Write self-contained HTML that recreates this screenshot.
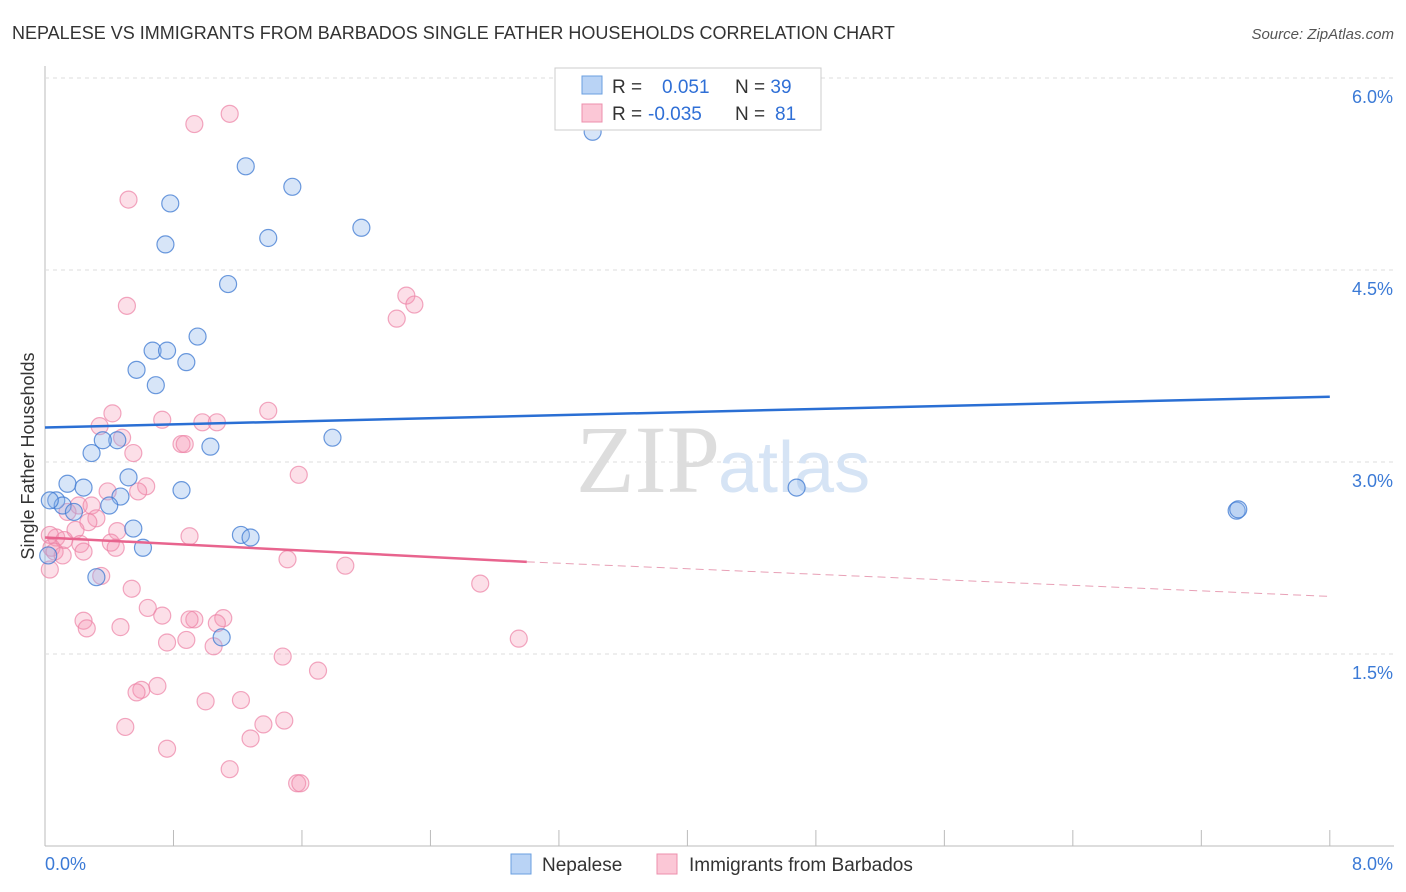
<!DOCTYPE html>
<html><head><meta charset="utf-8"><style>
body{margin:0;background:#fff;font-family:"Liberation Sans",sans-serif;}
svg{display:block}
</style></head><body>
<svg id="chart" width="1406" height="892">
<text x="12" y="39" font-size="18" fill="#333">NEPALESE VS IMMIGRANTS FROM BARBADOS SINGLE FATHER HOUSEHOLDS CORRELATION CHART</text>
<text x="1394" y="39" font-size="15" fill="#555" font-style="italic" text-anchor="end">Source: ZipAtlas.com</text>
<text x="0" y="0" transform="translate(34,456) rotate(-90)" font-size="18" fill="#333" text-anchor="middle">Single Father Households</text>
<g id="grid"></g>
<text x="720" y="492" font-size="96" fill="#ddd" font-family="Liberation Serif,serif" text-anchor="end">ZIP</text>
<text x="718" y="492" font-size="72" fill="#d6e4f5">atlas</text>
<g id="points"></g>
<g id="lines"></g>
<g>
<rect x="555" y="68" width="266" height="62" fill="#fff" stroke="#ccc"/>
<rect x="582" y="76" width="20" height="18" fill="#b9d3f5" stroke="#6a9fe0"/>
<rect x="582" y="104" width="20" height="18" fill="#fbc7d6" stroke="#ec8fac"/>
<text x="612" y="93" font-size="19" fill="#333">R = <tspan fill="#2f6fd6" x="662">0.051</tspan><tspan x="735" fill="#333">N = </tspan><tspan fill="#2f6fd6">39</tspan></text>
<text x="612" y="120" font-size="19" fill="#333">R = <tspan fill="#2f6fd6" x="648">-0.035</tspan><tspan x="735" fill="#333">N = </tspan><tspan fill="#2f6fd6" x="775">81</tspan></text>
</g>
<g>
<rect x="511" y="854" width="20" height="20" fill="#b9d3f5" stroke="#6a9fe0"/>
<text x="542" y="871" font-size="19" fill="#333">Nepalese</text>
<rect x="657" y="854" width="20" height="20" fill="#fbc7d6" stroke="#ec8fac"/>
<text x="689" y="871" font-size="19" fill="#333">Immigrants from Barbados</text>
</g>
<text x="45" y="870" font-size="18" fill="#3b7ad6">0.0%</text>
<text x="1393" y="870" font-size="18" fill="#3b7ad6" text-anchor="end">8.0%</text>
</svg>
<script>
const yTicks=[1.5,3.0,4.5,6.0];
const yTickLabels=["1.5%","3.0%","4.5%","6.0%"];
const xTicks=[0,0.8,1.6,2.4,3.2,4.0,4.8,5.6,6.4,7.2,8.0];
const nepaleseX=[3.41,1.25,1.54,0.78,1.97,0.75,1.39,1.14,0.95,0.67,0.76,0.88,0.57,0.69,1.79,0.45,0.36,1.03,0.29,0.52,4.68,0.14,0.24,0.85,0.07,0.47,0.11,0.40,0.18,7.42,7.43,0.55,1.22,1.28,0.61,0.02,0.32,1.10,0.03];
const nepaleseY=[5.58,5.31,5.15,5.02,4.83,4.70,4.75,4.39,3.98,3.87,3.87,3.78,3.72,3.60,3.19,3.17,3.17,3.12,3.07,2.88,2.80,2.83,2.80,2.78,2.70,2.73,2.66,2.66,2.61,2.62,2.63,2.48,2.43,2.41,2.33,2.27,2.10,1.63,2.70];
const barbadosX=[1.15,0.93,0.52,0.51,2.25,2.19,2.30,0.42,0.73,1.39,0.98,1.07,0.34,0.48,0.85,0.87,0.55,1.58,0.63,0.39,0.58,0.21,0.29,0.14,0.32,0.27,0.19,0.45,0.90,0.07,0.03,0.12,0.22,0.04,0.41,0.06,0.11,0.24,0.44,1.51,1.87,0.03,0.35,2.71,0.54,0.64,0.73,0.24,0.26,0.93,0.90,1.11,1.07,0.47,2.95,0.76,0.88,1.05,1.48,1.70,0.70,0.60,0.57,1.00,1.22,1.49,1.36,0.50,1.28,0.76,1.15,1.57,1.59];
const barbadosY=[5.72,5.64,5.05,4.22,4.30,4.12,4.23,3.38,3.33,3.40,3.31,3.31,3.28,3.19,3.14,3.14,3.07,2.90,2.81,2.77,2.77,2.66,2.66,2.61,2.56,2.53,2.47,2.46,2.42,2.41,2.43,2.39,2.36,2.33,2.37,2.30,2.27,2.30,2.33,2.24,2.19,2.16,2.11,2.05,2.01,1.86,1.80,1.76,1.70,1.77,1.77,1.78,1.74,1.71,1.62,1.59,1.61,1.56,1.48,1.37,1.25,1.22,1.20,1.13,1.14,0.98,0.95,0.93,0.84,0.76,0.60,0.49,0.49];
const blueTrend=[3.27,3.51];
const pinkTrend=[2.41,2.22,1.95];
const pinkSolidEnd=3.0;
const sx=v=>45+v*160.6, sy=v=>846-v*128;
const NS="http://www.w3.org/2000/svg";
function mk(tag,attrs,parent){const e=document.createElementNS(NS,tag);for(const k in attrs)e.setAttribute(k,attrs[k]);parent.appendChild(e);return e;}
const grid=document.getElementById('grid');
let ax=mk('line',{x1:45,y1:66,x2:45,y2:846,stroke:'#bbb'},grid);


let bx=mk('line',{x1:45,y1:846,x2:1394,y2:846,stroke:'#bbb'},grid);


yTicks.forEach((t,i)=>{
 const g=mk('line',{x1:45,y1:sy(t),x2:1394,y2:sy(t),stroke:'#ddd','stroke-dasharray':'4,4'},grid);
 
 
 const l=mk('text',{x:1393,y:sy(t)+25,'font-size':18,fill:'#3b7ad6','text-anchor':'end'},grid);
 l.textContent=yTickLabels[i];
 
 
});
xTicks.forEach(t=>{
 const k=mk('line',{x1:sx(t),y1:830,x2:sx(t),y2:846,stroke:'#bbb'},grid);
 
 
});
const pts=document.getElementById('points');
barbadosX.forEach((x,i)=>{
 const c=mk('circle',{cx:sx(x),cy:sy(barbadosY[i]),r:8.5,fill:'rgba(244,150,180,0.3)',stroke:'rgba(236,130,165,0.7)','stroke-width':1.2},pts);
 
 
});
nepaleseX.forEach((x,i)=>{
 const c=mk('circle',{cx:sx(x),cy:sy(nepaleseY[i]),r:8.5,fill:'rgba(140,180,235,0.35)',stroke:'rgba(60,120,210,0.75)','stroke-width':1.2},pts);
 
 
});
const ln=document.getElementById('lines');
let b=mk('line',{x1:sx(0),y1:sy(blueTrend[0]),x2:sx(8),y2:sy(blueTrend[1]),stroke:'#2a6fd4','stroke-width':2.5},ln);


let p=mk('line',{x1:sx(0),y1:sy(pinkTrend[0]),x2:sx(pinkSolidEnd),y2:sy(pinkTrend[1]),stroke:'#e8648e','stroke-width':2.5},ln);


let pd=mk('line',{x1:sx(pinkSolidEnd),y1:sy(pinkTrend[1]),x2:sx(8),y2:sy(pinkTrend[2]),stroke:'#e8a0b6','stroke-width':1,'stroke-dasharray':'8,5'},ln);


</script>
</body></html>
